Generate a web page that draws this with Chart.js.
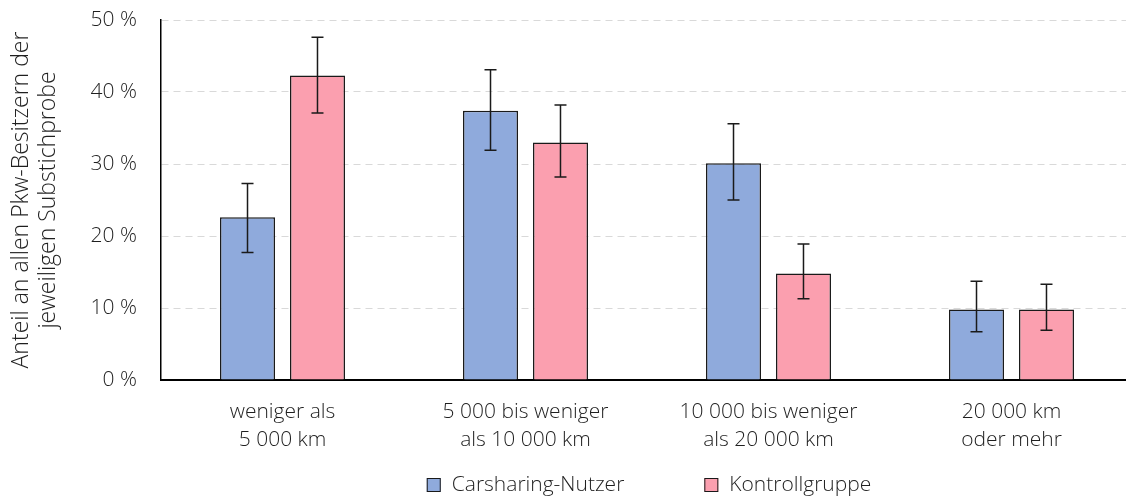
<!DOCTYPE html>
<html><head><meta charset="utf-8">
<script src="https://cdn.jsdelivr.net/npm/chart.js@4/dist/chart.umd.min.js"></script>
<style>html,body{margin:0;padding:0;overflow:hidden;background:#fff}
#wrap{width:1133px;height:499px;position:relative}
</style></head><body><div id="wrap"><canvas id="c"></canvas></div>
<script>
const categories = [["weniger als","5 000 km"],["5 000 bis weniger","als 10 000 km"],["10 000 bis weniger","als 20 000 km"],["20 000 km","oder mehr"]];
const seriesNames = ["Carsharing-Nutzer","Kontrollgruppe"];
const carsharing = [22.6, 37.4, 30.1, 9.8];
const carsharingLow = [17.7, 31.9, 25.0, 6.7];
const carsharingHigh = [27.3, 43.1, 35.6, 13.7];
const kontroll = [42.3, 33.0, 14.8, 9.8];
const kontrollLow = [37.1, 28.2, 11.3, 6.9];
const kontrollHigh = [47.6, 38.2, 18.9, 13.3];
const yTicks = [0, 10, 20, 30, 40, 50];
const yTitle = ["Anteil an allen Pkw-Besitzern der", "jeweiligen Substichprobe"];

const FONT = "'Open Sans', 'Noto Sans', sans-serif";
const TXT = '#1f1f1f';
const FS = 21;

const errorBars = {
  id: 'errorBars',
  afterDatasetsDraw(chart) {
    const ctx = chart.ctx, y = chart.scales.y;
    chart.data.datasets.forEach((ds, i) => {
      const meta = chart.getDatasetMeta(i);
      meta.data.forEach((bar, j) => {
        const lo = y.getPixelForValue(ds.errLow[j]);
        const hi = y.getPixelForValue(ds.errHigh[j]);
        const x = bar.x;
        ctx.save();
        ctx.strokeStyle = '#1a1a1a';
        ctx.lineWidth = 1.5;
        ctx.beginPath();
        ctx.moveTo(x, lo); ctx.lineTo(x, hi);
        ctx.moveTo(x - 6, lo); ctx.lineTo(x + 6, lo);
        ctx.moveTo(x - 6, hi); ctx.lineTo(x + 6, hi);
        ctx.stroke();
        ctx.restore();
      });
    });
  }
};

const customLegend = {
  id: 'customLegend',
  afterDraw(chart) {
    const ctx = chart.ctx;
    ctx.save();
    ctx.font = '300 ' + FS + 'px ' + FONT;
    const box = 14, gapText = 11, gapItem = 80;
    const items = chart.data.datasets.map(d => ({label: d.label, color: d.backgroundColor, w: ctx.measureText(d.label).width}));
    let total = 0;
    items.forEach((it, k) => { total += box + gapText + it.w + (k < items.length - 1 ? gapItem : 0); });
    const ca = chart.chartArea;
    let x = (ca.left + ca.right) / 2 - total / 2 + 2;
    const yc = 485;
    items.forEach(it => {
      ctx.fillStyle = it.color;
      ctx.fillRect(x, yc - box / 2, box, box);
      ctx.strokeStyle = '#1a1a1a';
      ctx.lineWidth = 1;
      ctx.strokeRect(x + 0.5, yc - box / 2 + 0.5, box - 1, box - 1);
      ctx.fillStyle = TXT;
      ctx.textBaseline = 'middle';
      ctx.textAlign = 'left';
      ctx.fillText(it.label, x + box + gapText, yc);
      x += box + gapText + it.w + gapItem;
    });
    ctx.restore();
  }
};

new Chart(document.getElementById('c'), {
  type: 'bar',
  data: {
    labels: categories,
    datasets: [
      {label: seriesNames[0], data: carsharing, errLow: carsharingLow, errHigh: carsharingHigh,
       backgroundColor: '#8FAADC', borderColor: '#1a1a1a', borderWidth: 1.5},
      {label: seriesNames[1], data: kontroll, errLow: kontrollLow, errHigh: kontrollHigh,
       backgroundColor: '#FB9FAF', borderColor: '#1a1a1a', borderWidth: 1.5}
    ]
  },
  options: {
    responsive: true,
    maintainAspectRatio: false,
    animation: false,
    categoryPercentage: 0.576,
    barPercentage: 0.786,
    layout: {padding: {top: 20, bottom: 0, left: 0, right: 0}},
    plugins: {legend: {display: false}, tooltip: {enabled: false}},
    scales: {
      x: {
        grid: {display: false, drawTicks: false},
        border: {display: true, color: '#000', width: 2},
        ticks: {color: TXT, font: {family: FONT, size: FS, weight: 300, lineHeight: 1.33}, padding: 18, maxRotation: 0, autoSkip: false},
        afterFit(s) { s.height = 119; s.paddingLeft = 0; s.paddingRight = 0; }
      },
      y: {
        min: 0, max: 50,
        afterBuildTicks(s) { s.ticks = yTicks.map(v => ({value: v})); },
        grid: {color: '#d9d9d9', lineWidth: 1, drawTicks: false},
        border: {display: true, color: '#000', width: 1.5, dash: [7, 5]},
        ticks: {color: TXT, font: {family: FONT, size: FS, weight: 300}, padding: 24, callback: v => v + ' %'},
        title: {display: true, text: yTitle, color: TXT, font: {family: FONT, size: 23, weight: 300, lineHeight: 1.17}, padding: {top: 8, bottom: 0}},
        afterFit(s) { s.width = 161; s.paddingTop = 0; s.paddingBottom = 0; }
      }
    }
  },
  plugins: [errorBars, customLegend]
});
</script></body></html>
